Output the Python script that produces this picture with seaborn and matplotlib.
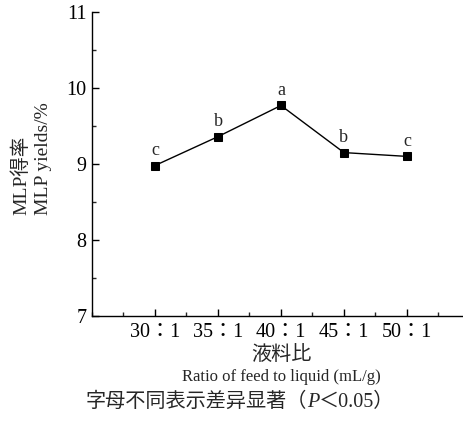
import matplotlib
matplotlib.use("Agg")
import matplotlib.pyplot as plt
import seaborn as sns
import pandas as pd
from matplotlib.ticker import MultipleLocator

ratios = ["30：1", "35：1", "40：1", "45：1", "50：1"]
yields = [8.98, 9.36, 9.77, 9.15, 9.10]
letters = ["c", "b", "a", "b", "c"]

sns.set_style("ticks")
serif_cjk = ["Liberation Serif", "Noto Sans CJK JP"]
plt.rcParams["font.family"] = serif_cjk

df = pd.DataFrame({"pos": range(len(ratios)), "yield": yields})

W, H = 463, 423
fig = plt.figure(figsize=(W / 100, H / 100), dpi=100)
ax = fig.add_axes([92 / W, 1 - 316 / H, (W - 92) / W, (316 - 12) / H])

sns.lineplot(data=df, x="pos", y="yield", ax=ax, color="black", linewidth=1.0,
             marker="s", markersize=5.5, markeredgecolor="black")

for i, (v, t) in enumerate(zip(yields, letters)):
    ax.text(i, v + 0.09, t, ha="center", va="bottom", fontsize=13)

ax.set_xlim(-1, 4.89)
ax.set_ylim(7, 11)
ax.set_xticks(range(len(ratios)))
ax.set_xticklabels(ratios)
ax.xaxis.set_minor_locator(MultipleLocator(0.5))
ax.yaxis.set_major_locator(MultipleLocator(1))
ax.yaxis.set_minor_locator(MultipleLocator(0.5))
ax.tick_params(axis="both", which="major", direction="in", length=5, width=1,
               labelsize=14.5, colors="black")
ax.tick_params(axis="both", which="minor", direction="in", length=3, width=1)
ax.tick_params(axis="x", pad=5)
ax.tick_params(axis="y", pad=4)

for s in ["top", "right"]:
    ax.spines[s].set_visible(False)
for s in ["left", "bottom"]:
    ax.spines[s].set_linewidth(1.0)
    ax.spines[s].set_color("black")

ax.set_xlabel("")
ax.set_ylabel("")

fig.text(281 / W, 1 - 356 / H, "液料比", ha="center", va="center", fontsize=14.5)
fig.text(281 / W, 1 - 377 / H, "Ratio of feed to liquid (mL/g)", ha="center",
         va="center", fontsize=12)
fig.text(21 / W, 1 - 215 / H, "MLP得率", ha="center", va="bottom",
         rotation=90, fontsize=14)
fig.text(43 / W, 1 - 215 / H, "MLP yields/%", ha="center", va="bottom",
         rotation=90, fontsize=14)

# Caption: plain run, italic P, plain run, laid out left to right
cap_y = 1 - 402 / H
parts = [("字母不同表示差异显著（", "normal"), ("P", "italic"), ("＜0.05）", "normal")]
renderer = fig.canvas.get_renderer()
texts = []
widths = []
for s, st in parts:
    t = fig.text(0, cap_y, s, ha="left", va="center", fontsize=14.5, style=st)
    texts.append(t)
    widths.append(t.get_window_extent(renderer).width)
total = sum(widths)
x0 = 240 - total / 2
for t, w in zip(texts, widths):
    t.set_x(x0 / W)
    x0 += w

fig.savefig("out.png", dpi=100)
